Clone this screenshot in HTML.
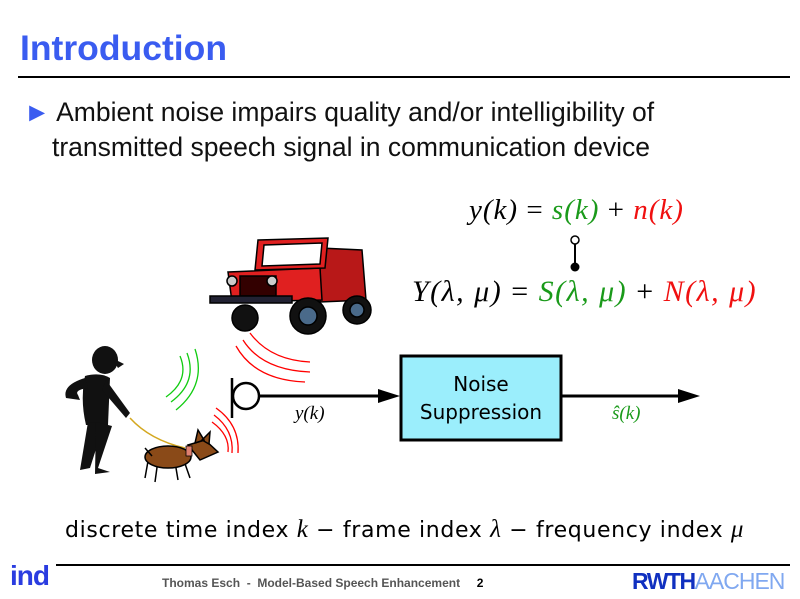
<!DOCTYPE html>
<html><head><meta charset="utf-8"><style>
html,body{margin:0;padding:0;background:#fff;}
body{width:800px;height:599px;position:relative;overflow:hidden;font-family:"Liberation Sans",sans-serif;}
.a{position:absolute;white-space:nowrap;}
.m{font-family:"Liberation Serif",serif;font-style:italic;}
.n{font-family:"Liberation Serif",serif;font-style:normal;}
.g{color:#1a9a1a}.r{color:#f01010}
</style></head><body>
<div class="a" style="left:20px;top:28px;font-size:35.5px;font-weight:bold;color:#3a5cf0;">Introduction</div>
<div class="a" style="left:18px;top:76px;width:772px;height:2px;background:#000;"></div>
<div class="a" style="left:24px;top:95px;font-size:26.5px;color:#111;line-height:35px;"><span style="color:#3a5cf0">&#9658;</span> Ambient noise impairs quality and/or intelligibility of</div>
<div class="a" style="left:52px;top:130px;font-size:26.5px;color:#111;line-height:35px;">transmitted speech signal in communication device</div>
<div class="a m" style="left:469px;top:194px;font-size:29px;letter-spacing:1px;">y(k) <span class="n">=</span> <span class="g">s(k)</span> <span class="n">+</span> <span class="r">n(k)</span></div>
<div class="a m" style="left:412px;top:275px;font-size:30px;letter-spacing:1.5px;">Y(λ, μ) <span class="n">=</span> <span class="g">S(λ, μ)</span> <span class="n">+</span> <span class="r">N(λ, μ)</span></div>
<svg class="a" style="left:0;top:0" width="800" height="599">
<line x1="575" y1="242" x2="575" y2="266" stroke="#000" stroke-width="2"/>
<circle cx="575" cy="240" r="4" fill="#fff" stroke="#000" stroke-width="1.5"/>
<circle cx="575" cy="267" r="4.5" fill="#000"/>
<line x1="232" y1="378" x2="232" y2="418" stroke="#000" stroke-width="2.5"/>
<circle cx="246" cy="396" r="13" fill="none" stroke="#000" stroke-width="2.5"/>
<line x1="259" y1="396" x2="380" y2="396" stroke="#000" stroke-width="3"/>
<polygon points="400,396 378,389 378,403" fill="#000"/>
<rect x="401" y="356" width="160" height="84" fill="#9beefc" stroke="#000" stroke-width="3"/>
<line x1="562" y1="396" x2="680" y2="396" stroke="#000" stroke-width="3"/>
<polygon points="700,396 678,389 678,403" fill="#000"/>
<g fill="none" stroke="#f00" stroke-width="1.3">
<path d="M250 333 Q270 360 310 362"/><path d="M243 340 Q262 370 310 372"/><path d="M236 346 Q255 380 305 382"/>
<path d="M212 422 Q230 435 228 452"/><path d="M214 415 Q234 430 232 453"/><path d="M216 408 Q240 425 238 453"/>
</g>
<g fill="none" stroke="#1c1" stroke-width="1.3">
<path d="M180 356 Q190 380 166 397"/><path d="M187 353 Q198 382 171 402"/><path d="M195 349 Q207 385 176 410"/>
</g>
<g stroke="#000" stroke-width="1.5">
<path d="M320 248 L362 250 L366 300 L320 302 Z" fill="#b81818"/>
<path d="M228 272 L320 268 L322 300 L232 302 Z" fill="#e02020"/>
<path d="M258 240 L328 238 L325 268 L255 270 Z" fill="#e02020"/>
<path d="M264 245 L322 243 L320 264 L262 266 Z" fill="#fff"/>
<rect x="240" y="276" width="36" height="20" fill="#300"/>
<circle cx="232" cy="281" r="5" fill="#ccc"/><circle cx="272" cy="281" r="5" fill="#ccc"/>
<rect x="210" y="296" width="82" height="7" fill="#223"/>
<circle cx="245" cy="318" r="13" fill="#111"/>
<circle cx="308" cy="316" r="18" fill="#111"/><circle cx="308" cy="316" r="9" fill="#4a6a8a"/>
<circle cx="357" cy="310" r="14" fill="#111"/><circle cx="357" cy="310" r="7" fill="#4a6a8a"/>
</g>
<g fill="#111">
<ellipse cx="105" cy="360" rx="13" ry="14"/>
<path d="M112 358 L124 364 L118 368 Z"/>
<path d="M85 376 Q100 372 110 378 L108 425 L86 425 Q80 400 85 376 Z"/>
<path d="M85 378 Q62 385 66 398 L80 400 L78 395 Q74 390 88 388 Z"/>
<path d="M106 380 L130 413 L126 418 L102 390 Z"/>
<path d="M88 422 L104 424 L90 468 L80 470 Z"/>
<path d="M96 422 L112 426 L98 468 L110 472 L95 474 Z"/>
</g>
<path d="M130 418 Q150 440 185 448" fill="none" stroke="#d4a820" stroke-width="1.5"/>
<g stroke="#000" stroke-width="1.5">
<path d="M150 450 L145 478 M158 460 L155 482 M175 462 L178 480 M183 458 L190 478" fill="none"/>
<ellipse cx="168" cy="457" rx="23" ry="11" fill="#8a4a18"/>
<path d="M145 448 L152 456" fill="none"/>
<path d="M188 445 L205 440 L218 452 L200 460 Z" fill="#8a4a18"/>
<path d="M195 443 L198 430 L204 440 Z M202 440 L210 432 L209 444 Z" fill="#8a4a18"/>
<rect x="186" y="446" width="6" height="10" fill="#e08070" stroke-width="0.8"/>
</g>
</svg>
<div class="a" style="left:401px;top:370px;width:160px;text-align:center;font-size:20px;line-height:28px;font-family:'DejaVu Sans',sans-serif;">Noise<br>Suppression</div>
<div class="a m" style="left:295px;top:403px;font-size:19px;">y(k)</div>
<div class="a m g" style="left:612px;top:403px;font-size:19px;">ŝ(k)</div>
<div class="a" style="left:65px;top:516px;font-size:22px;letter-spacing:0.65px;font-family:'DejaVu Sans',sans-serif;">discrete time index <span class="m" style="font-size:25px">k</span> − frame index <span class="m" style="font-size:25px">λ</span> − frequency index <span class="m" style="font-size:25px">μ</span></div>
<div class="a" style="left:56px;top:564px;width:734px;height:2px;background:#000;"></div>
<div class="a" style="left:10px;top:560px;font-size:28px;font-weight:bold;color:#2a3ce0;letter-spacing:-1px;">ind</div>
<div class="a" style="left:162px;top:576px;font-size:12px;color:#555;font-weight:bold;">Thomas Esch &nbsp;-&nbsp; Model-Based Speech Enhancement &nbsp;&nbsp;&nbsp;&nbsp;<span style="color:#000">2</span></div>
<div class="a" style="left:632px;top:568px;font-size:23px;font-weight:bold;color:#1030c0;letter-spacing:-1.5px;">RWTH<span style="color:#80a8f0;font-weight:normal;letter-spacing:-1px">AACHEN</span></div>
</body></html>
